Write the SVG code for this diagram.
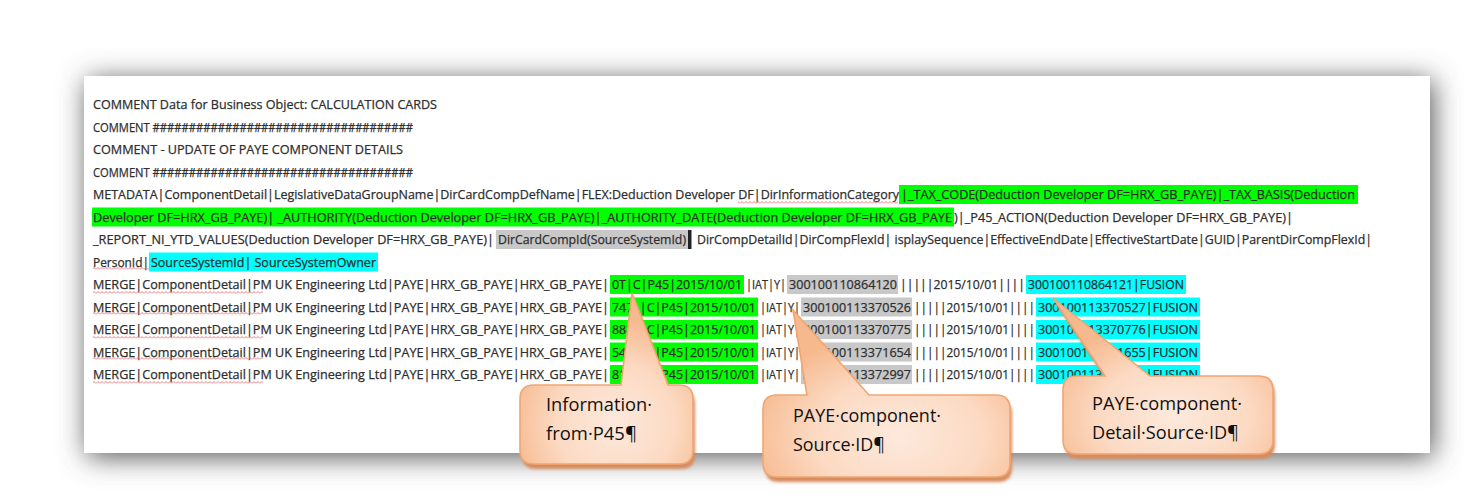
<svg xmlns="http://www.w3.org/2000/svg" xmlns:xlink="http://www.w3.org/1999/xlink" width="1464" height="500" viewBox="0 0 1464 500">
<style>
.t{font-family:"Open Sans","Noto Sans","Liberation Sans",sans-serif;font-size:12.5px;fill:#2e2e2e;stroke:#2e2e2e;stroke-width:0.25}
.ct{font-family:"Open Sans","Noto Sans","Liberation Sans",sans-serif;font-size:17.5px;fill:#111}
.g{fill:#00ff00}
.c{fill:#00ffff}
.s{fill:#c8c8c8}
.sq{fill:url(#squig)}
.cshadow{fill:#d68c5e;filter:url(#soft)}
.cbody{stroke:#f2a571;stroke-width:1.6}
</style>
<defs>
<filter id="pageShadow" x="-10%" y="-30%" width="120%" height="160%"><feGaussianBlur stdDeviation="14"/></filter>
<filter id="soft" x="-10%" y="-10%" width="120%" height="130%"><feGaussianBlur stdDeviation="1.6"/></filter>
<pattern id="squig" x="0" y="0" width="4" height="3" patternUnits="userSpaceOnUse"><path d="M0,2.5 L2,0.5 L4,2.5" fill="none" stroke="#e86a6a" stroke-width="0.9"/></pattern>
<radialGradient id="cg" cx="0.55" cy="0.76" r="0.62"><stop offset="0" stop-color="#fde9dc"/><stop offset="0.55" stop-color="#fcdac3"/><stop offset="1" stop-color="#f6b98e"/></radialGradient>
<path id="c1shape" d="M534,385 H621 L632,293 L668,385 H679 Q693,385 693,399 V450 Q693,464 679,464 H534 Q520,464 520,450 V399 Q520,385 534,385 Z"/>
<path id="c2shape" d="M777,395 H807 L793,310 L869,395 H996 Q1010,395 1010,409 V463 Q1010,477 996,477 H777 Q763,477 763,463 V409 Q763,395 777,395 Z"/>
<path id="c3shape" d="M1077,376 H1105 L1053,298 L1150,376 H1259 Q1273,376 1273,390 V440 Q1273,454 1259,454 H1077 Q1063,454 1063,440 V390 Q1063,376 1077,376 Z"/>
</defs>
<rect width="1464" height="500" fill="#ffffff"/>
<g id="page">
<rect x="87" y="80" width="1346" height="377" fill="#555555" filter="url(#pageShadow)"/>
<rect x="84" y="76" width="1346" height="377" fill="#ffffff"/>
</g>
<g id="highlights">
<rect class="g" x="899" y="185" width="459" height="19"/>
<rect class="g" x="92" y="207.5" width="862" height="19"/>
<rect class="s" x="496" y="230" width="192" height="19"/>
<rect x="688" y="230" width="3.5" height="19" fill="#222"/>
<rect class="c" x="149" y="252.5" width="229" height="19"/>
<rect class="g" x="610" y="275" width="134" height="19"/>
<rect class="s" x="787" y="275" width="111" height="19"/>
<rect class="c" x="1026" y="275" width="160" height="19"/>
<rect class="g" x="610" y="297.5" width="148" height="19"/>
<rect class="s" x="801" y="297.5" width="111" height="19"/>
<rect class="c" x="1036" y="297.5" width="164" height="19"/>
<rect class="g" x="610" y="320" width="148" height="19"/>
<rect class="s" x="801" y="320" width="111" height="19"/>
<rect class="c" x="1036" y="320" width="164" height="19"/>
<rect class="g" x="610" y="342.5" width="148" height="19"/>
<rect class="s" x="801" y="342.5" width="111" height="19"/>
<rect class="c" x="1036" y="342.5" width="164" height="19"/>
<rect class="g" x="610" y="365" width="148" height="19"/>
<rect class="s" x="801" y="365" width="111" height="19"/>
<rect class="c" x="1036" y="365" width="164" height="19"/>
</g>
<g id="text-lines">
<text class="t" x="93" y="109" textLength="344" lengthAdjust="spacingAndGlyphs">COMMENT Data for Business Object: CALCULATION CARDS</text>
<text class="t" x="93" y="131.5" textLength="320" lengthAdjust="spacingAndGlyphs">COMMENT ####################################</text>
<text class="t" x="93" y="154" textLength="310" lengthAdjust="spacingAndGlyphs">COMMENT - UPDATE OF PAYE COMPONENT DETAILS</text>
<text class="t" x="93" y="176.5" textLength="320" lengthAdjust="spacingAndGlyphs">COMMENT ####################################</text>
<text class="t" x="93" y="199" textLength="806" lengthAdjust="spacingAndGlyphs">METADATA|ComponentDetail|LegislativeDataGroupName|DirCardCompDefName|FLEX:Deduction Developer DF|DirInformationCategory</text>
<text class="t" x="901" y="199" textLength="454" lengthAdjust="spacingAndGlyphs">|_TAX_CODE(Deduction Developer DF=HRX_GB_PAYE)|_TAX_BASIS(Deduction</text>
<text class="t" x="93" y="221.5" textLength="859" lengthAdjust="spacingAndGlyphs">Developer DF=HRX_GB_PAYE)| _AUTHORITY(Deduction Developer DF=HRX_GB_PAYE)|_AUTHORITY_DATE(Deduction Developer DF=HRX_GB_PAYE</text>
<text class="t" x="954" y="221.5" textLength="339" lengthAdjust="spacingAndGlyphs">)|_P45_ACTION(Deduction Developer DF=HRX_GB_PAYE)|</text>
<text class="t" x="93" y="244" textLength="401" lengthAdjust="spacingAndGlyphs">_REPORT_NI_YTD_VALUES(Deduction Developer DF=HRX_GB_PAYE)|</text>
<text class="t" x="498" y="244" textLength="188" lengthAdjust="spacingAndGlyphs">DirCardCompId(SourceSystemId)</text>
<text class="t" x="697" y="244" textLength="675" lengthAdjust="spacingAndGlyphs">DirCompDetailId|DirCompFlexId| isplaySequence|EffectiveEndDate|EffectiveStartDate|GUID|ParentDirCompFlexId|</text>
<text class="t" x="93" y="266.5" textLength="56" lengthAdjust="spacingAndGlyphs">PersonId|</text>
<text class="t" x="151" y="266.5" textLength="225" lengthAdjust="spacingAndGlyphs">SourceSystemId| SourceSystemOwner</text>

<text class="t" x="93" y="289" textLength="516" lengthAdjust="spacingAndGlyphs">MERGE|ComponentDetail|PM UK Engineering Ltd|PAYE|HRX_GB_PAYE|HRX_GB_PAYE|</text>
<text class="t" x="612" y="289" textLength="130" lengthAdjust="spacingAndGlyphs">0T|C|P45|2015/10/01</text>
<text class="t" x="746" y="289" textLength="40" lengthAdjust="spacingAndGlyphs">|IAT|Y|</text>
<text class="t" x="789" y="289" textLength="108" lengthAdjust="spacingAndGlyphs">300100110864120</text>
<text class="t" x="900" y="289" textLength="125" lengthAdjust="spacingAndGlyphs">|||||2015/10/01||||</text>
<text class="t" x="1028" y="289" textLength="156" lengthAdjust="spacingAndGlyphs">300100110864121|FUSION</text>

<text class="t" x="93" y="311.5" textLength="516" lengthAdjust="spacingAndGlyphs">MERGE|ComponentDetail|PM UK Engineering Ltd|PAYE|HRX_GB_PAYE|HRX_GB_PAYE|</text>
<text class="t" x="612" y="311.5" textLength="144" lengthAdjust="spacingAndGlyphs">747L|C|P45|2015/10/01</text>
<text class="t" x="760" y="311.5" textLength="40" lengthAdjust="spacingAndGlyphs">|IAT|Y|</text>
<text class="t" x="803" y="311.5" textLength="108" lengthAdjust="spacingAndGlyphs">300100113370526</text>
<text class="t" x="914" y="311.5" textLength="121" lengthAdjust="spacingAndGlyphs">|||||2015/10/01||||</text>
<text class="t" x="1038" y="311.5" textLength="160" lengthAdjust="spacingAndGlyphs">300100113370527|FUSION</text>

<text class="t" x="93" y="334" textLength="516" lengthAdjust="spacingAndGlyphs">MERGE|ComponentDetail|PM UK Engineering Ltd|PAYE|HRX_GB_PAYE|HRX_GB_PAYE|</text>
<text class="t" x="612" y="334" textLength="144" lengthAdjust="spacingAndGlyphs">888L|C|P45|2015/10/01</text>
<text class="t" x="760" y="334" textLength="40" lengthAdjust="spacingAndGlyphs">|IAT|Y|</text>
<text class="t" x="803" y="334" textLength="108" lengthAdjust="spacingAndGlyphs">300100113370775</text>
<text class="t" x="914" y="334" textLength="121" lengthAdjust="spacingAndGlyphs">|||||2015/10/01||||</text>
<text class="t" x="1038" y="334" textLength="160" lengthAdjust="spacingAndGlyphs">300100113370776|FUSION</text>

<text class="t" x="93" y="356.5" textLength="516" lengthAdjust="spacingAndGlyphs">MERGE|ComponentDetail|PM UK Engineering Ltd|PAYE|HRX_GB_PAYE|HRX_GB_PAYE|</text>
<text class="t" x="612" y="356.5" textLength="144" lengthAdjust="spacingAndGlyphs">544L|C|P45|2015/10/01</text>
<text class="t" x="760" y="356.5" textLength="40" lengthAdjust="spacingAndGlyphs">|IAT|Y|</text>
<text class="t" x="803" y="356.5" textLength="108" lengthAdjust="spacingAndGlyphs">300100113371654</text>
<text class="t" x="914" y="356.5" textLength="121" lengthAdjust="spacingAndGlyphs">|||||2015/10/01||||</text>
<text class="t" x="1038" y="356.5" textLength="160" lengthAdjust="spacingAndGlyphs">300100113371655|FUSION</text>

<text class="t" x="93" y="379" textLength="516" lengthAdjust="spacingAndGlyphs">MERGE|ComponentDetail|PM UK Engineering Ltd|PAYE|HRX_GB_PAYE|HRX_GB_PAYE|</text>
<text class="t" x="612" y="379" textLength="144" lengthAdjust="spacingAndGlyphs">810L|C|P45|2015/10/01</text>
<text class="t" x="760" y="379" textLength="40" lengthAdjust="spacingAndGlyphs">|IAT|Y|</text>
<text class="t" x="803" y="379" textLength="108" lengthAdjust="spacingAndGlyphs">300100113372997</text>
<text class="t" x="914" y="379" textLength="121" lengthAdjust="spacingAndGlyphs">|||||2015/10/01||||</text>
<text class="t" x="1038" y="379" textLength="160" lengthAdjust="spacingAndGlyphs">300100113372998|FUSION</text>
</g>
<g id="spell-marks">
<rect class="sq" x="738" y="201" width="160" height="3"/>
<rect class="sq" x="93" y="267" width="56" height="3"/>
<rect class="sq" x="93" y="291" width="170" height="3"/>
<rect class="sq" x="93" y="312" width="170" height="3"/>
<rect class="sq" x="93" y="336" width="170" height="3"/>
<rect class="sq" x="93" y="357" width="170" height="3"/>
<rect class="sq" x="93" y="381" width="170" height="3"/>
</g>
<g id="connectors"></g>
<g id="callout-p45">
<use xlink:href="#c1shape" href="#c1shape" class="cshadow" transform="translate(2,5)"/>
<use xlink:href="#c1shape" href="#c1shape" class="cbody" fill="url(#cg)"/>
<text class="ct" x="546" y="411" textLength="106" lengthAdjust="spacingAndGlyphs">Information·</text>
<text class="ct" x="546" y="440" textLength="91" lengthAdjust="spacingAndGlyphs">from·P45¶</text>
</g>
<g id="callout-component">
<use xlink:href="#c2shape" href="#c2shape" class="cshadow" transform="translate(2,5)"/>
<use xlink:href="#c2shape" href="#c2shape" class="cbody" fill="url(#cg)"/>
<text class="ct" x="793" y="422" textLength="148" lengthAdjust="spacingAndGlyphs">PAYE·component·</text>
<text class="ct" x="793" y="451" textLength="92" lengthAdjust="spacingAndGlyphs">Source·ID¶</text>
</g>
<g id="callout-detail">
<use xlink:href="#c3shape" href="#c3shape" class="cshadow" transform="translate(2,5)"/>
<use xlink:href="#c3shape" href="#c3shape" class="cbody" fill="url(#cg)"/>
<text class="ct" x="1092" y="410" textLength="150" lengthAdjust="spacingAndGlyphs">PAYE·component·</text>
<text class="ct" x="1092" y="439" textLength="147" lengthAdjust="spacingAndGlyphs">Detail·Source·ID¶</text>
</g>
</svg>
